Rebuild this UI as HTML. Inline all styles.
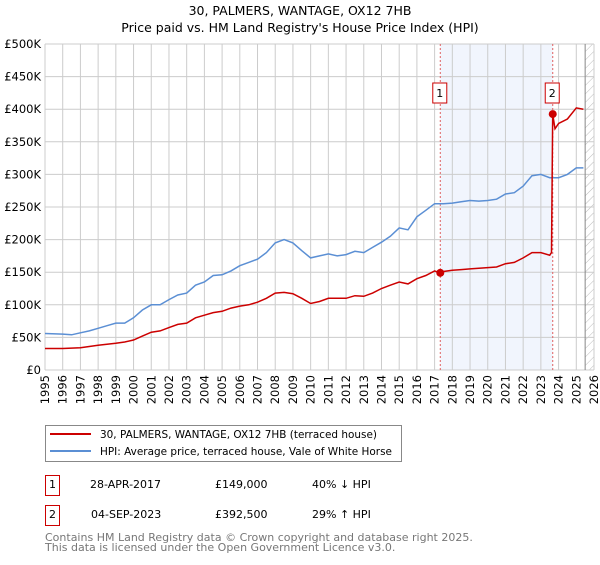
<!DOCTYPE html>
<html><head><meta charset="utf-8"><style>
body{margin:0;background:#fff;font-family:"Liberation Sans","DejaVu Sans",sans-serif;}
svg text{font-family:"DejaVu Sans","Liberation Sans",sans-serif;}
</style></head><body>
<svg width="600" height="560" xmlns="http://www.w3.org/2000/svg">
<defs><pattern id="hatch" width="6" height="6" patternUnits="userSpaceOnUse" patternTransform="rotate(45)"><line x1="0" y1="0" x2="0" y2="6" stroke="#bbb" stroke-width="1"/></pattern></defs>
<text x="300" y="15" text-anchor="middle" font-size="12.5">30, PALMERS, WANTAGE, OX12 7HB</text>
<text x="300" y="32" text-anchor="middle" font-size="12.5">Price paid vs. HM Land Registry's House Price Index (HPI)</text>
<g id="plot"></g>
<g>
<rect x="45.5" y="425.5" width="356" height="36" fill="#fff" stroke="#888"/>
<line x1="50" y1="434" x2="91" y2="434" stroke="#cc0000" stroke-width="2"/>
<text x="100" y="438" font-size="11" textLength="277" lengthAdjust="spacingAndGlyphs">30, PALMERS, WANTAGE, OX12 7HB (terraced house)</text>
<line x1="50" y1="451" x2="91" y2="451" stroke="#5b8fd4" stroke-width="2"/>
<text x="100" y="455" font-size="11" textLength="292" lengthAdjust="spacingAndGlyphs">HPI: Average price, terraced house, Vale of White Horse</text>
</g>
<g font-size="11">
<rect x="45.5" y="475.5" width="14" height="20" fill="#fff" stroke="#cc0000"/><text x="52.5" y="488" text-anchor="middle">1</text>
<text x="90" y="488">28-APR-2017</text><text x="215" y="488">£149,000</text><text x="312" y="488">40% ↓ HPI</text>
<rect x="45.5" y="505.5" width="14" height="20" fill="#fff" stroke="#cc0000"/><text x="52.5" y="518" text-anchor="middle">2</text>
<text x="91" y="518">04-SEP-2023</text><text x="215" y="518">£392,500</text><text x="312" y="518">29% ↑ HPI</text>
</g>
<text x="45" y="541" font-size="11" fill="#777">Contains HM Land Registry data © Crown copyright and database right 2025.</text>
<text x="45" y="551" font-size="11" fill="#777">This data is licensed under the Open Government Licence v3.0.</text>
</svg>
<script>
const hpiDates=[1995,1996,1996.5,1997,1997.5,1998,1998.5,1999,1999.5,2000,2000.5,2001,2001.5,2002,2002.5,2003,2003.5,2004,2004.5,2005,2005.5,2006,2006.5,2007,2007.5,2008,2008.5,2009,2009.5,2010,2010.5,2011,2011.5,2012,2012.5,2013,2013.5,2014,2014.5,2015,2015.5,2016,2016.5,2017,2017.5,2018,2018.5,2019,2019.5,2020,2020.5,2021,2021.5,2022,2022.5,2023,2023.5,2024,2024.5,2025,2025.4];
const hpiValues=[56,55,54,57,60,64,68,72,72,80,92,100,100,108,115,118,130,135,145,146,152,160,165,170,180,195,200,195,183,172,175,178,175,177,182,180,188,196,205,218,215,235,245,255,255,256,258,260,259,260,262,270,272,282,298,300,295,295,300,310,310];
const priceDates=[1995,1996,1997,1998,1999,1999.5,2000,2000.5,2001,2001.5,2002,2002.5,2003,2003.5,2004,2004.5,2005,2005.5,2006,2006.5,2007,2007.5,2008,2008.5,2009,2009.5,2010,2010.5,2011,2011.5,2012,2012.5,2013,2013.5,2014,2014.5,2015,2015.5,2016,2016.5,2017,2017.32,2017.5,2018,2018.5,2019,2019.5,2020,2020.5,2021,2021.5,2022,2022.5,2023,2023.5,2023.6,2023.67,2023.8,2024,2024.5,2025,2025.4];
const priceValues=[33,33,34,38,41,43,46,52,58,60,65,70,72,80,84,88,90,95,98,100,104,110,118,119,117,110,102,105,110,110,110,114,113,118,125,130,135,132,140,145,152,149,151,153,154,155,156,157,158,163,165,172,180,180,176,180,392.5,370,378,385,402,400];
const saleDates=[2017.32,2023.67];
const saleValues=[149,392.5];
const saleLabels=["1","2"];
const yTicks=[0,50,100,150,200,250,300,350,400,450,500];
const yTickLabels=["£0","£50K","£100K","£150K","£200K","£250K","£300K","£350K","£400K","£450K","£500K"];
const xTicks=[1995,1996,1997,1998,1999,2000,2001,2002,2003,2004,2005,2006,2007,2008,2009,2010,2011,2012,2013,2014,2015,2016,2017,2018,2019,2020,2021,2022,2023,2024,2025,2026];
const X0=45,X1=594,Y0=370,Y1=44;
const xs=d=>X0+(d-1995)/(2026-1995)*(X1-X0);
const ys=v=>Y0-v/500*(Y0-Y1);
const NS="http://www.w3.org/2000/svg";
const g=document.getElementById('plot');
function mk(t,a,p){const e=document.createElementNS(NS,t);for(const k in a)e.setAttribute(k,a[k]);(p||g).appendChild(e);return e;}
const band=mk('rect',{x:xs(saleDates[0]),y:Y1,width:xs(saleDates[1])-xs(saleDates[0]),height:Y0-Y1,fill:'#eef3fc',opacity:0.8});


const hatch=mk('rect',{x:xs(2025.5),y:Y1,width:X1-xs(2025.5),height:Y0-Y1,fill:'url(#hatch)'});


yTicks.forEach((v,i)=>{
 const l=mk('line',{x1:X0,x2:X1,y1:ys(v),y2:ys(v),stroke:'#ccc'});
 
 
 const t=mk('text',{x:X0-4,y:ys(v)+4,'text-anchor':'end','font-size':'11.5'});t.textContent=yTickLabels[i];
 
 
});
xTicks.forEach(d=>{
 const l=mk('line',{x1:xs(d),x2:xs(d),y1:Y1,y2:Y0,stroke:'#ccc'});
 
 
 const t=mk('text',{x:0,y:0,'text-anchor':'end','font-size':'11.5',transform:`translate(${xs(d)+4},${Y0+5}) rotate(-90)`});t.textContent=d;
 
 
});
const hl=mk('line',{x1:xs(2025.5),x2:xs(2025.5),y1:Y1,y2:Y0,stroke:'#888'});


saleDates.forEach(d=>{const l=mk('line',{x1:xs(d),x2:xs(d),y1:Y1,y2:Y0,stroke:'#e06060','stroke-dasharray':'2,2'});
 
 });
function path(ds,vs,c){return ds.map((d,i)=>(i?'L':'M')+xs(d).toFixed(1)+','+ys(vs[i]).toFixed(1)).join('');}
const hp=mk('path',{d:path(hpiDates,hpiValues),fill:'none',stroke:'#5b8fd4','stroke-width':1.5});


const pp=mk('path',{d:path(priceDates,priceValues),fill:'none',stroke:'#cc0000','stroke-width':1.5});


saleDates.forEach((d,i)=>{
 const c=mk('circle',{cx:xs(d),cy:ys(saleValues[i]),r:4,fill:'#cc0000'});
 
 
 const r=mk('rect',{x:xs(d)-7.5,y:83,width:14,height:20,fill:'#fff',stroke:'#cc0000'});
 
 
 const t=mk('text',{x:xs(d)-0.5,y:97,'text-anchor':'middle','font-size':'11'});t.textContent=saleLabels[i];
 
 
});
</script>
</body></html>
